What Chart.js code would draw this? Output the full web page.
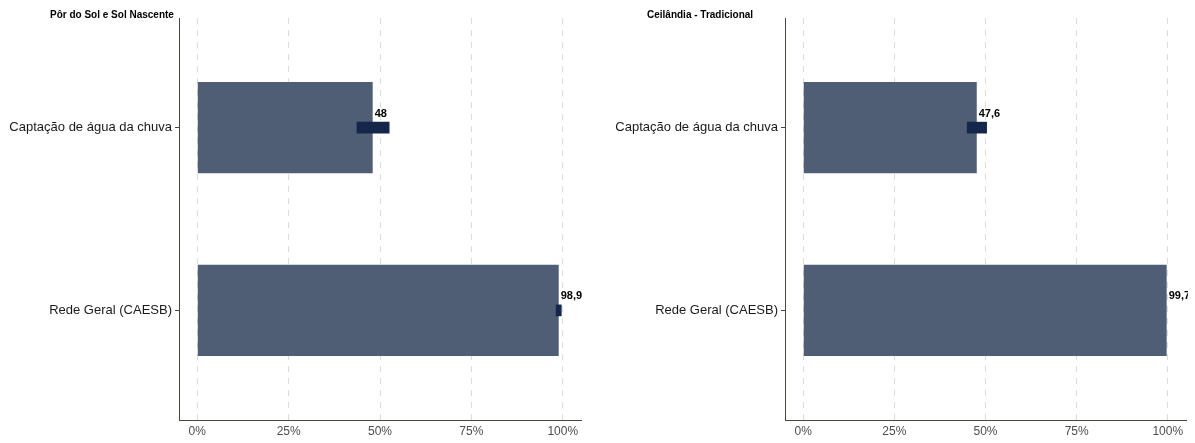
<!DOCTYPE html>
<html>
<head>
<meta charset="utf-8">
<script src="https://cdn.jsdelivr.net/npm/chart.js@4/dist/chart.umd.min.js"></script>
<style>
  body { margin: 0; background: #fff; }
  #wrap { position: relative; width: 1195px; height: 443px; }
  #wrap canvas { position: absolute; top: 0; }
</style>
</head>
<body>
<div id="wrap">
  <canvas id="left" width="597" height="443" style="left:0"></canvas>
  <canvas id="right" width="598" height="443" style="left:597px"></canvas>
</div>
<script>
// data
var categories = ['Captação de água da chuva', 'Rede Geral (CAESB)'];
var tickValues = [0, 25, 50, 75, 100];

var leftTitle = 'Pôr do Sol e Sol Nascente';
var leftValues = [48, 98.9];
var leftLow = [43.6, 98.1];
var leftHigh = [52.6, 99.7];

var rightTitle = 'Ceilândia - Tradicional';
var rightValues = [47.6, 99.7];
var rightLow = [44.9, null];
var rightHigh = [50.4, null];

var barColor = '#4f5d75';
var errColor = '#14264a';
var axisColor = '#4a4640';

// draws the value label above each bar end, and the panel title
var labelPlugin = {
    id: 'labels',
    afterDraw: function (chart) {
        var ctx = chart.ctx;
        var xs = chart.scales.x;
        var ys = chart.scales.y;
        var vals = chart.config.data.datasets[0].data;
        ctx.save();
        ctx.beginPath();
        ctx.rect(0, 0, chart.chartArea.right + 2, chart.height);
        ctx.clip();
        ctx.fillStyle = '#000';
        ctx.font = 'bold 11px "Liberation Sans", Arial, sans-serif';
        ctx.textAlign = 'left';
        ctx.textBaseline = 'middle';
        vals.forEach(function (d) {
            var px = xs.getPixelForValue(d.x);
            var py = ys.getPixelForValue(d.y);
            ctx.fillText(String(d.x).replace('.', ','), px + 2, py - 14);
        });
        ctx.restore();

        ctx.save();
        ctx.fillStyle = '#000';
        ctx.font = 'bold 10px "Liberation Sans", Arial, sans-serif';
        ctx.textAlign = 'left';
        ctx.textBaseline = 'alphabetic';
        ctx.fillText(chart.options.plugins.panelTitle, 50, 18);
        ctx.restore();
    }
};

function makeChart(id, title, values, low, high, axisWidth, rightPad) {
    var barData = values.map(function (v, i) { return { x: v, y: i + 1 }; });
    var errData = [];
    low.forEach(function (l, i) {
        if (l !== null) errData.push({ x: [l, high[i]], y: i + 1 });
    });

    return new Chart(document.getElementById(id).getContext('2d'), {
        type: 'bar',
        data: {
            datasets: [{
                data: barData,
                backgroundColor: barColor,
                grouped: false,
                order: 2,
                categoryPercentage: 1,
                barPercentage: 0.5
            }, {
                data: errData,
                backgroundColor: errColor,
                grouped: false,
                order: 1,
                categoryPercentage: 1,
                barPercentage: 0.064
            }]
        },
        options: {
            indexAxis: 'y',
            responsive: false,
            devicePixelRatio: 1,
            animation: false,
            layout: { padding: { top: 18, right: rightPad, bottom: 0, left: 0 } },
            plugins: {
                legend: { display: false },
                tooltip: { enabled: false },
                panelTitle: title
            },
            scales: {
                x: {
                    type: 'linear',
                    min: -5,
                    max: 105,
                    afterBuildTicks: function (scale) {
                        scale.ticks = tickValues.map(function (v) { return { value: v }; });
                    },
                    afterFit: function (scale) { scale.height = 23; },
                    ticks: {
                        callback: function (v) { return v + '%'; },
                        color: '#4d4d4d',
                        font: { size: 12, family: '"Liberation Sans", Arial, sans-serif' },
                        padding: 4,
                        maxRotation: 0
                    },
                    grid: {
                        color: '#dcdcdc',
                        lineWidth: 1,
                        drawTicks: false
                    },
                    border: { display: true, color: axisColor, width: 1, dash: [6, 6] }
                },
                y: {
                    type: 'linear',
                    reverse: true,
                    offset: false,
                    min: 0.4,
                    max: 2.6,
                    afterBuildTicks: function (scale) {
                        scale.ticks = categories.map(function (c, i) { return { value: i + 1 }; });
                    },
                    afterFit: function (scale) { scale.width = axisWidth; },
                    ticks: {
                        callback: function (v) { return categories[v - 1]; },
                        color: '#1a1a1a',
                        font: { size: 13, family: '"Liberation Sans", Arial, sans-serif' },
                        padding: 3
                    },
                    grid: {
                        offset: false,
                        drawOnChartArea: false,
                        color: axisColor,
                        tickLength: 4
                    },
                    border: { display: true, color: axisColor, width: 1 }
                }
            }
        },
        plugins: [labelPlugin]
    });
}

makeChart('left', leftTitle, leftValues, leftLow, leftHigh, 179, 16);
makeChart('right', rightTitle, rightValues, rightLow, rightHigh, 188, 9);
</script>
</body>
</html>
